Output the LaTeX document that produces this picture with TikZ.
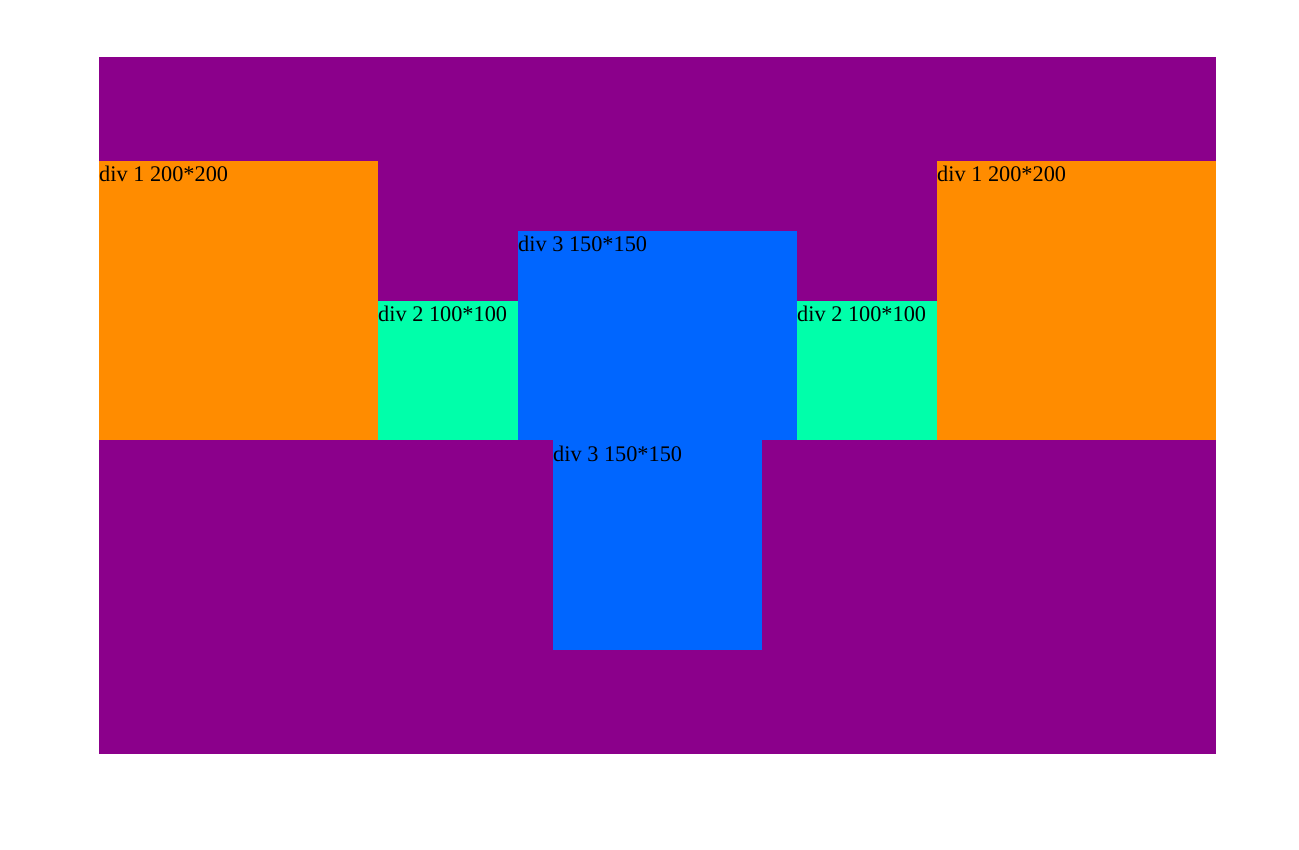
\documentclass[tikz,border=0pt]{standalone}
\usepackage{fontspec}
\setmainfont{Liberation Serif}
\usepackage{tikz}
\usetikzlibrary{positioning}
\definecolor{divpurple}{HTML}{8B008B}
\definecolor{divorange}{HTML}{FF8C00}
\definecolor{divgreen}{HTML}{00FFAA}
\definecolor{divblue}{HTML}{0066FF}
\tikzset{
  divbox/.style={draw=none, inner sep=0pt, outer sep=0pt, anchor=north west},
  divlabel/.style={font=\fontsize{22.3}{25}\selectfont, inner sep=0pt, anchor=base west}
}
\begin{document}
\begin{tikzpicture}[x=1pt, y=-1pt]
  \useasboundingbox (0,0) rectangle (1299,850);
  % outer container
  \node[divbox, fill=divpurple, minimum width=1117pt, minimum height=697pt] (outer) at (99,57) {};
  % top row
  \node[divbox, fill=divorange, minimum width=279pt, minimum height=279pt] (oneL) at (99,161) {};
  \node[divbox, fill=divgreen, minimum width=140pt, minimum height=139pt] (twoL) at (378,301) {};
  \node[divbox, fill=divblue, minimum width=279pt, minimum height=209pt] (threeT) at (518,231) {};
  \node[divbox, fill=divgreen, minimum width=140pt, minimum height=139pt] (twoR) at (797,301) {};
  \node[divbox, fill=divorange, minimum width=279pt, minimum height=279pt] (oneR) at (937,161) {};
  % bottom block
  \node[divbox, fill=divblue, minimum width=209pt, minimum height=210pt] (threeB) at (553,440) {};
  % labels
  \node[divlabel] (labOneL) at ([yshift=-21pt]oneL.north west) {div 1 200*200};
  \node[divlabel] (labTwoL) at ([yshift=-21pt]twoL.north west) {div 2 100*100};
  \node[divlabel] (labThreeT) at ([yshift=-21pt]threeT.north west) {div 3 150*150};
  \node[divlabel] (labTwoR) at ([yshift=-21pt]twoR.north west) {div 2 100*100};
  \node[divlabel] (labOneR) at ([yshift=-21pt]oneR.north west) {div 1 200*200};
  \node[divlabel] (labThreeB) at ([yshift=-21pt]threeB.north west) {div 3 150*150};
\end{tikzpicture}
\end{document}
